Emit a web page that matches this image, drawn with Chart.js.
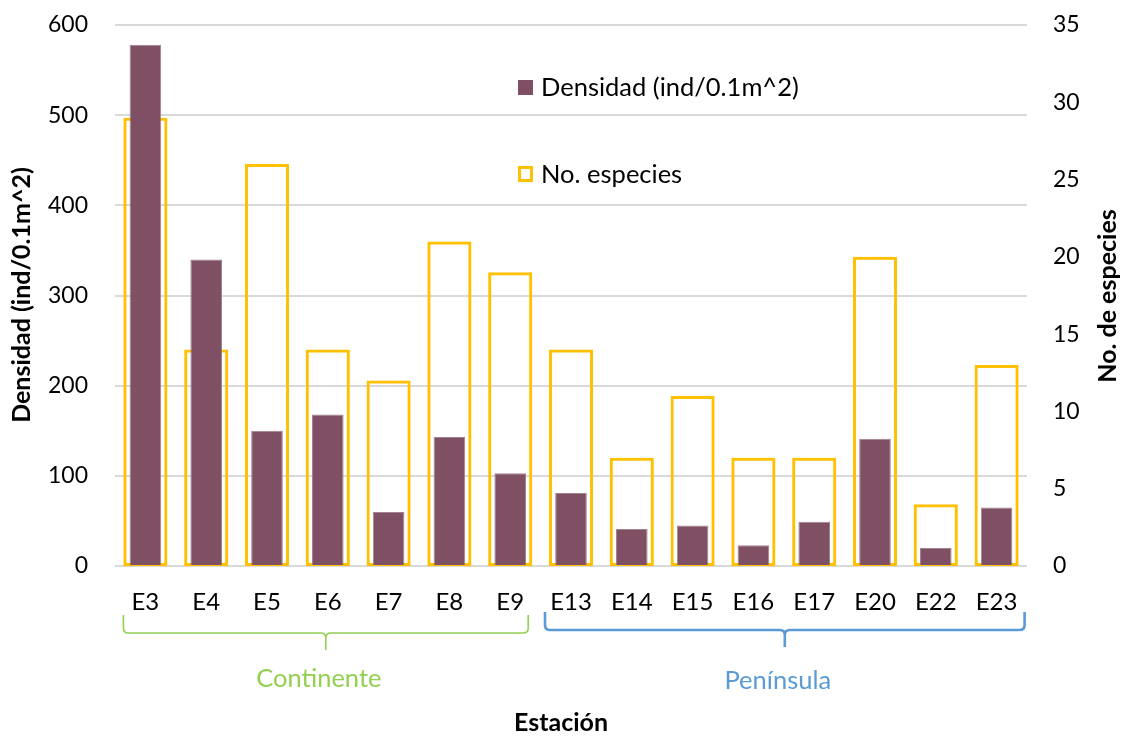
<!DOCTYPE html>
<html>
<head>
<meta charset="utf-8">
<script src="https://cdn.jsdelivr.net/npm/chart.js@4"></script>
<style>
  html, body { margin: 0; padding: 0; background: #fff; }
  #wrap { width: 1121px; height: 736px; position: relative; }
</style>
</head>
<body>
<div id="wrap"><canvas id="c"></canvas></div>
<script>
// Sampling stations
const estaciones = ['E3','E4','E5','E6','E7','E8','E9','E13','E14','E15','E16','E17','E20','E22','E23'];
// Density per station (ind/0.1m^2)
const densidad = [578, 340, 150, 168, 60, 143, 103, 81, 41, 45, 23, 49, 141, 20, 65];
// Number of species per station
const especies = [29, 14, 26, 14, 12, 21, 19, 14, 7, 11, 7, 7, 20, 4, 13];
// Axis tick settings
const densidadTicks = { min: 0, max: 600, step: 100 };
const especiesTicks = { min: 0, max: 35, step: 5 };
// Station groups shown under the axis
const grupos = [
  { nombre: 'Continente', desde: 'E3', hasta: 'E9' },
  { nombre: 'Península', desde: 'E13', hasta: 'E23' }
];
const leyenda = ['Densidad (ind/0.1m^2)', 'No. especies'];

const FONT = 'Lato, "Open Sans", sans-serif';
const MAROON = '#7F4F63';
const GOLD = '#FFC000';

const extras = {
  id: 'extras',
  afterDraw(chart) {
    const ctx = chart.ctx;
    const x = chart.scales.x;
    ctx.save();

    // Legend
    ctx.font = '25.5px ' + FONT;
    ctx.textBaseline = 'middle';
    ctx.textAlign = 'left';
    ctx.fillStyle = MAROON;
    ctx.fillRect(518, 80, 15, 15);
    ctx.fillStyle = '#000';
    ctx.fillText(leyenda[0], 541, 88);
    ctx.strokeStyle = GOLD;
    ctx.lineWidth = 3;
    ctx.strokeRect(519.5, 167.5, 12, 13);
    ctx.fillText(leyenda[1], 541, 175);

    // Group braces
    const estilos = [
      { color: '#92D050', lw: 1.6, l: -22, r: 18, top: 615, mid: 633, tip: 650, ty: 679 },
      { color: '#5B9BD5', lw: 2.6, l: -26, r: 28, top: 612, mid: 630, tip: 647, ty: 681 }
    ];
    grupos.forEach((g, i) => {
      const s = estilos[i];
      const x0 = x.getPixelForValue(estaciones.indexOf(g.desde)) + s.l;
      const x1 = x.getPixelForValue(estaciones.indexOf(g.hasta)) + s.r;
      const xm = (x0 + x1) / 2;
      const rr = 5;
      ctx.strokeStyle = s.color;
      ctx.lineWidth = s.lw;
      ctx.lineJoin = 'round';
      ctx.beginPath();
      ctx.moveTo(x0, s.top);
      ctx.lineTo(x0, s.mid - rr);
      ctx.quadraticCurveTo(x0, s.mid, x0 + rr, s.mid);
      ctx.lineTo(xm - rr, s.mid);
      ctx.quadraticCurveTo(xm, s.mid, xm, s.mid + rr);
      ctx.lineTo(xm, s.tip);
      ctx.moveTo(xm, s.mid + rr);
      ctx.quadraticCurveTo(xm, s.mid, xm + rr, s.mid);
      ctx.lineTo(x1 - rr, s.mid);
      ctx.quadraticCurveTo(x1, s.mid, x1, s.mid - rr);
      ctx.lineTo(x1, s.top);
      ctx.stroke();
      ctx.fillStyle = s.color;
      ctx.font = '25.5px ' + FONT;
      ctx.textAlign = 'center';
      ctx.fillText(g.nombre, xm - 7, s.ty);
    });

    // Axis titles
    ctx.fillStyle = '#000';
    ctx.font = 'bold 25px ' + FONT;
    ctx.textAlign = 'center';
    ctx.fillText('Estación', 561, 723);

    ctx.save();
    ctx.translate(22, 295);
    ctx.rotate(-Math.PI / 2);
    ctx.fillText('Densidad (ind/0.1m^2)', 0, 0);
    ctx.restore();

    ctx.save();
    ctx.translate(1108, 296);
    ctx.rotate(-Math.PI / 2);
    ctx.fillText('No. de especies', 0, 0);
    ctx.restore();

    ctx.restore();
  }
};

// Fixed side widths so the plot area spans the same box on every render
function fixVertical(width) {
  return function (s) {
    s.width = width;
    s.paddingTop = 0;
    s.paddingBottom = 0;
  };
}

new Chart(document.getElementById('c'), {
  type: 'bar',
  data: {
    labels: estaciones,
    datasets: [
      {
        label: leyenda[0],
        data: densidad,
        yAxisID: 'y',
        backgroundColor: MAROON,
        borderColor: '#A08290',
        borderWidth: 1,
        grouped: false,
        categoryPercentage: 1,
        barPercentage: 0.52,
        order: 0
      },
      {
        label: leyenda[1],
        data: especies,
        yAxisID: 'y1',
        backgroundColor: 'rgba(0,0,0,0)',
        borderColor: GOLD,
        borderWidth: 3,
        borderSkipped: false,
        grouped: false,
        categoryPercentage: 1,
        barPercentage: 0.725,
        order: 1
      }
    ]
  },
  options: {
    responsive: true,
    maintainAspectRatio: false,
    animation: false,
    layout: { padding: { top: 25, left: 0, right: 0, bottom: 0 } },
    plugins: {
      legend: { display: false },
      tooltip: { enabled: false }
    },
    scales: {
      x: {
        grid: { display: false },
        border: { display: false },
        ticks: { font: { family: FONT, size: 24 }, color: '#000', padding: 14, maxRotation: 0 },
        afterFit(s) { s.height = 170; }
      },
      y: {
        position: 'left',
        min: densidadTicks.min,
        max: densidadTicks.max,
        ticks: { stepSize: densidadTicks.step, font: { family: FONT, size: 23 }, color: '#000', padding: 27 },
        grid: { color: '#D9D9D9', lineWidth: 2, drawTicks: false },
        border: { display: false },
        afterFit: fixVertical(115)
      },
      y1: {
        position: 'right',
        min: especiesTicks.min,
        max: especiesTicks.max,
        ticks: { stepSize: especiesTicks.step, font: { family: FONT, size: 23 }, color: '#000', padding: 26 },
        grid: { display: false, drawTicks: false },
        border: { display: false },
        afterFit: fixVertical(94)
      }
    }
  },
  plugins: [extras]
});
</script>
</body>
</html>
